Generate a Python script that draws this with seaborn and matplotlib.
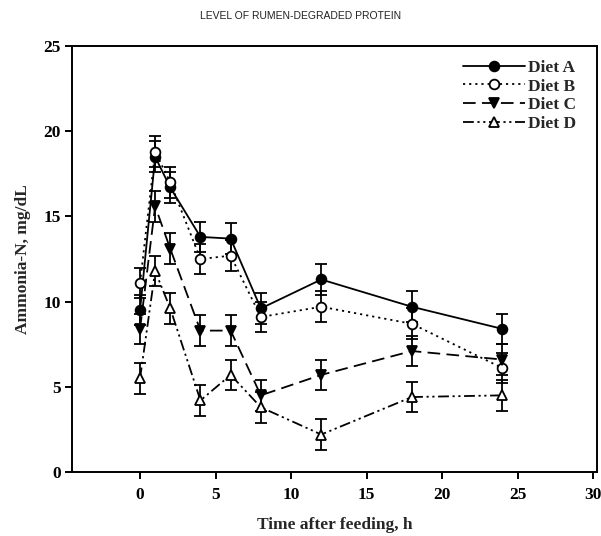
import numpy as np
import pandas as pd
import matplotlib
matplotlib.use("Agg")
import matplotlib.pyplot as plt
import seaborn as sns

time_h = [0, 1, 2, 4, 6, 8, 12, 18, 24]
diet_a = [9.5, 18.5, 16.7, 13.8, 13.7, 9.6, 11.3, 9.7, 8.4]
diet_b = [11.1, 18.8, 17.0, 12.5, 12.7, 9.1, 9.7, 8.7, 6.1]
diet_c = [8.4, 15.6, 13.1, 8.3, 8.3, 4.5, 5.7, 7.1, 6.6]
diet_d = [5.5, 11.8, 9.6, 4.2, 5.7, 3.8, 2.2, 4.4, 4.5]
sem = [0.9, 0.9, 0.9, 0.9, 0.9, 0.9, 0.9, 0.9, 0.9]
labels = ["Diet A", "Diet B", "Diet C", "Diet D"]
title = "LEVEL OF RUMEN-DEGRADED PROTEIN"

rows = []
for lab, vals in zip(labels, [diet_a, diet_b, diet_c, diet_d]):
    for t, v, e in zip(time_h, vals, sem):
        rows.append({"Time": t, "NH3": v, "SEM": e, "Diet": lab})
df = pd.DataFrame(rows)

sns.set_style("ticks")
fig = plt.figure(figsize=(6.01, 5.36), dpi=100)
ax = fig.add_axes([0.12, 0.1194, 0.873, 0.7946])

styles = {
    "Diet A": dict(ls="-", marker="o", mfc="black"),
    "Diet B": dict(ls=(0, (1.2, 2.2)), marker="o", mfc="white"),
    "Diet C": dict(ls=(0, (7, 3.5)), marker="v", mfc="black"),
    "Diet D": dict(ls=(0, (6, 2, 1.2, 2, 1.2, 2)), marker="^", mfc="white"),
}

for lab in labels:
    sub = df[df["Diet"] == lab]
    st = styles[lab]
    ax.errorbar(sub["Time"], sub["NH3"], yerr=sub["SEM"], fmt="none",
                ecolor="black", elinewidth=1.3, capsize=4, capthick=1.3, zorder=2)
    sns.lineplot(data=sub, x="Time", y="NH3", ax=ax, color="black",
                 linestyle=st["ls"], marker=st["marker"], markersize=7,
                 markerfacecolor=st["mfc"], markeredgecolor="black",
                 markeredgewidth=1.3, linewidth=1.3, label=lab, zorder=3)

ax.set_xlim(-4.5, 30.25)
ax.set_ylim(0, 25)
ax.set_xticks([0, 5, 10, 15, 20, 25, 30])
ax.set_yticks([0, 5, 10, 15, 20, 25])
for s in ax.spines.values():
    s.set_linewidth(1.4)
    s.set_color("black")
ax.tick_params(direction="out", length=5, width=1.4, colors="black")
ax.tick_params(axis="x", pad=6)
ax.tick_params(axis="y", pad=3)
serif = ["Liberation Serif", "DejaVu Serif"]
for lbl in ax.get_xticklabels() + ax.get_yticklabels():
    lbl.set_fontfamily(serif)
    lbl.set_fontweight("bold")
    lbl.set_fontsize(12.5)
ax.set_xlabel("Time after feeding, h", fontfamily=serif, fontweight="bold", fontsize=12.5, labelpad=10)
ax.set_ylabel("Ammonia-N, mg/dL", fontfamily=serif, fontweight="bold", fontsize=12.5, labelpad=9)
fig.text(0.5, 0.971, title, ha="center", va="center", fontsize=7.5,
         fontfamily=["Liberation Sans", "DejaVu Sans"], color="#222222")

leg = ax.legend(loc="upper right", bbox_to_anchor=(0.99, 1.005), frameon=False, handlelength=3.6,
                prop={"family": serif, "weight": "bold", "size": 12.5},
                borderaxespad=0.5, labelspacing=0.15, handletextpad=0.15)

fig.savefig("out.png", dpi=100)
